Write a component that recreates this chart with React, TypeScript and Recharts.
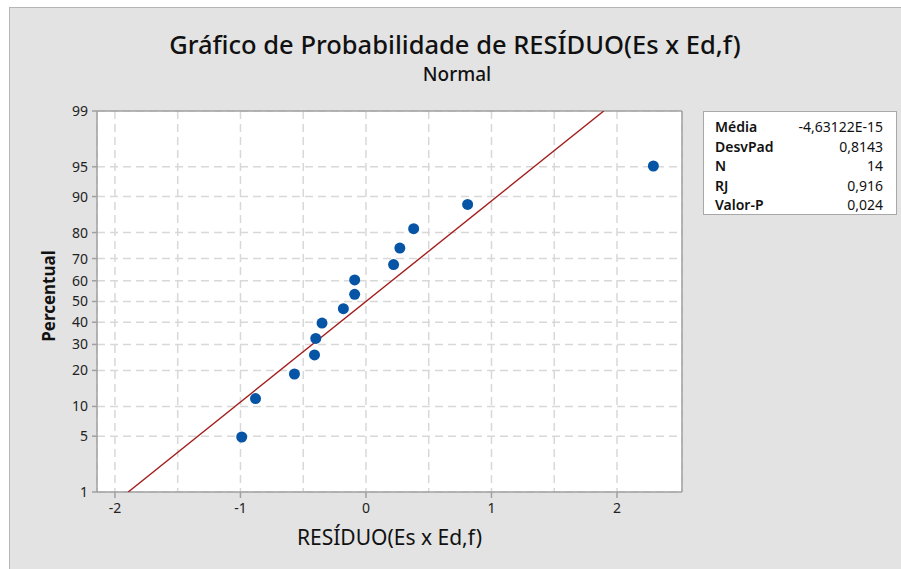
import React from 'react';
import { ScatterChart, Scatter, XAxis, YAxis, CartesianGrid } from 'recharts';

// residuals, with the plotted percentile of each one
const residuals = [-0.99, -0.88, -0.57, -0.41, -0.4, -0.35, -0.18, -0.09, -0.09, 0.22, 0.27, 0.38, 0.81, 2.29];
const percents = [4.9, 11.8, 18.8, 25.7, 32.6, 39.6, 46.5, 53.5, 60.4, 67.4, 74.3, 81.3, 88.2, 95.1];

const percentTicks = [1, 5, 10, 20, 30, 40, 50, 60, 70, 80, 90, 95, 99];
const xLabels = [-2, -1, 0, 1, 2];
const xGrid = [-2, -1.5, -1, -0.5, 0, 0.5, 1, 1.5, 2];

const statLabels = ['Média', 'DesvPad', 'N', 'RJ', 'Valor-P'];
const statValues = ['-4,63122E-15', '0,8143', '14', '0,916', '0,024'];
const fitMean = -4.63122e-15;
const fitSd = 0.8143;

const FONT = '"Noto Sans", "Open Sans", sans-serif';

// inverse normal CDF (Acklam) for the probability scale
function probit(p: number): number {
  const a = [-39.69683028665376, 220.9460984245205, -275.9285104469687, 138.357751867269, -30.66479806614716, 2.506628277459239];
  const b = [-54.47609879822406, 161.5858368580409, -155.6989798598866, 66.80131188771972, -13.28068155288572];
  const c = [-0.007784894002430293, -0.3223964580411365, -2.400758277161838, -2.549732539343734, 4.374664141464968, 2.938163982698783];
  const d = [0.007784695709041462, 0.3224671290700398, 2.445134137142996, 3.754408661907416];
  const pl = 0.02425;
  if (p < pl) {
    const q = Math.sqrt(-2 * Math.log(p));
    return (((((c[0] * q + c[1]) * q + c[2]) * q + c[3]) * q + c[4]) * q + c[5]) / ((((d[0] * q + d[1]) * q + d[2]) * q + d[3]) * q + 1);
  }
  if (p > 1 - pl) {
    const q = Math.sqrt(-2 * Math.log(1 - p));
    return -(((((c[0] * q + c[1]) * q + c[2]) * q + c[3]) * q + c[4]) * q + c[5]) / ((((d[0] * q + d[1]) * q + d[2]) * q + d[3]) * q + 1);
  }
  const q = p - 0.5;
  const r = q * q;
  return ((((((a[0] * r + a[1]) * r + a[2]) * r + a[3]) * r + a[4]) * r + a[5]) * q) / (((((b[0] * r + b[1]) * r + b[2]) * r + b[3]) * r + b[4]) * r + 1);
}

const zTicks = percentTicks.map((p) => probit(p / 100));
const zLo = zTicks[0];
const zHi = zTicks[zTicks.length - 1];
const xDomain = [-2.143, 2.518];

const points = residuals.map((x, i) => ({ x, y: probit(percents[i] / 100) }));
const fitLine = [
  { x: fitMean + fitSd * zLo, y: zLo },
  { x: fitMean + fitSd * zHi, y: zHi },
];

const percentLabel = (v: number) => {
  let best = 0;
  zTicks.forEach((z, i) => {
    if (Math.abs(z - v) < Math.abs(zTicks[best] - v)) best = i;
  });
  return String(percentTicks[best]);
};

// x ticks sit every 0.5 for the grid, but only whole numbers get a mark and a label
const XTick = (props: any) => {
  const { x, payload } = props;
  const y = props.y - 8;
  const v = payload.value;
  if (!xLabels.includes(v)) return <g />;
  return (
    <g>
      <line x1={x} x2={x} y1={y} y2={y + 6} stroke="#a0a0a0" strokeWidth={1.5} />
      <text x={x} y={y + 21} textAnchor="middle" fill="#222" fontSize={14} fontFamily={FONT}>
        {v}
      </text>
    </g>
  );
};

const Dot = (props: any) => <circle cx={props.cx} cy={props.cy} r={5.5} fill="#0654a6" />;
const NoDot = () => <g />;

export default function App() {
  return (
    <div style={{ position: 'absolute', left: 0, top: 0, width: 901, height: 569, background: '#fff', fontFamily: FONT }}>
      <div
        style={{
          position: 'absolute',
          left: 9,
          top: 7,
          width: 892,
          height: 562,
          background: '#e3e3e3',
          borderLeft: '1px solid #b5b5b5',
          borderTop: '1px solid #b5b5b5',
          boxSizing: 'border-box',
        }}
      />
      <div style={{ position: 'absolute', left: 0, top: 0 }}>
        <ScatterChart width={901} height={569} margin={{ top: 110, right: 218, bottom: 76, left: 96 }}>
          <CartesianGrid fill="#ffffff" stroke="#d8d8d8" strokeWidth={1.5} strokeDasharray="8 5" />
          <XAxis
            type="number"
            dataKey="x"
            domain={xDomain}
            ticks={xGrid}
            interval={0}
            allowDataOverflow
            height={1}
            stroke="#a0a0a0"
            strokeWidth={1.5}
            tickLine={false}
            tick={<XTick />}
          />
          <XAxis
            xAxisId="top"
            orientation="top"
            type="number"
            domain={xDomain}
            allowDataOverflow
            height={1}
            stroke="#a0a0a0"
            strokeWidth={1.5}
            tick={false}
            tickLine={false}
          />
          <YAxis
            type="number"
            dataKey="y"
            domain={[zLo, zHi]}
            ticks={zTicks}
            interval={0}
            allowDataOverflow
            width={1}
            stroke="#a0a0a0"
            strokeWidth={1.5}
            tickSize={5}
            tickMargin={4}
            tickFormatter={percentLabel}
            tick={{ fill: '#222', fontSize: 14, fontFamily: FONT }}
          />
          <YAxis
            yAxisId="right"
            orientation="right"
            type="number"
            domain={[zLo, zHi]}
            allowDataOverflow
            width={1}
            stroke="#a0a0a0"
            strokeWidth={1.5}
            tick={false}
            tickLine={false}
          />
          <Scatter
            data={fitLine}
            line={{ stroke: '#a31d1d', strokeWidth: 1.4 }}
            shape={NoDot}
            isAnimationActive={false}
          />
          <Scatter data={points} shape={Dot} isAnimationActive={false} />
        </ScatterChart>
      </div>

      <div style={{ position: 'absolute', left: 0, width: 910, top: 27, textAlign: 'center', fontSize: 25.5, fontWeight: 500, color: '#111', lineHeight: '34px' }}>
        Gráfico de Probabilidade de RESÍDUO(Es x Ed,f)
      </div>
      <div style={{ position: 'absolute', left: 0, width: 914, top: 61, textAlign: 'center', fontSize: 19, fontWeight: 500, color: '#111', lineHeight: '26px' }}>
        Normal
      </div>
      <div
        style={{
          position: 'absolute',
          left: 48,
          top: 296,
          transform: 'translate(-50%, -50%) rotate(-90deg)',
          fontSize: 17,
          fontWeight: 700,
          color: '#111',
          whiteSpace: 'nowrap',
        }}
      >
        Percentual
      </div>
      <div style={{ position: 'absolute', left: 97, width: 585, top: 523, textAlign: 'center', fontSize: 21, color: '#111', lineHeight: '28px' }}>
        RESÍDUO(Es x Ed,f)
      </div>

      <div
        style={{
          position: 'absolute',
          left: 703,
          top: 111,
          width: 194,
          height: 104,
          background: '#fff',
          border: '1px solid #a8a8a8',
          boxSizing: 'border-box',
          padding: '5px 13px 0 11px',
          fontSize: 14,
          color: '#111',
        }}
      >
        {statLabels.map((label, i) => (
          <div key={label} style={{ display: 'flex', justifyContent: 'space-between', height: 19.5, lineHeight: '19.5px' }}>
            <span style={{ fontWeight: 600 }}>{label}</span>
            <span>{statValues[i]}</span>
          </div>
        ))}
      </div>
    </div>
  );
}
